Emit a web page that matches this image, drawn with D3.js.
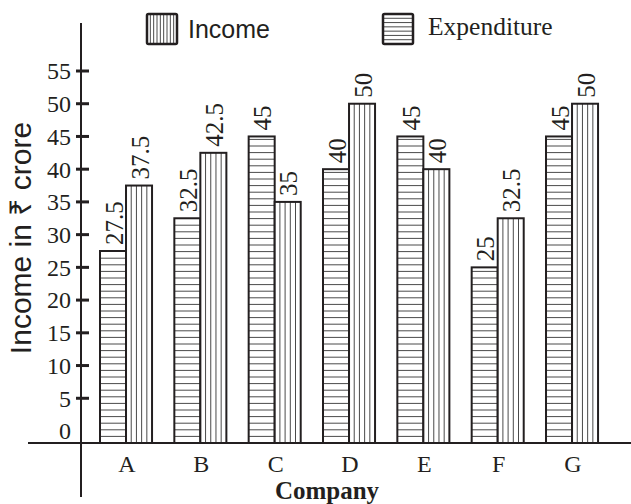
<!DOCTYPE html>
<html>
<head>
<meta charset="utf-8">
<script src="https://cdn.jsdelivr.net/npm/d3@7/dist/d3.min.js"></script>
<style>
  html, body { margin: 0; padding: 0; background: #fff; }
  svg { display: block; }
</style>
</head>
<body>
<svg id="chart" width="631" height="504"></svg>
<script>
// ---- data ----
const categories = ["A", "B", "C", "D", "E", "F", "G"];
// left bar of each pair (horizontal hatching)
const expenditure = [27.5, 32.5, 45, 40, 45, 25, 45];
// right bar of each pair (vertical hatching)
const income = [37.5, 42.5, 35, 50, 40, 32.5, 50];
const yTicks = [0, 5, 10, 15, 20, 25, 30, 35, 40, 45, 50, 55];
const seriesNames = ["Income", "Expenditure"];
const yTitle = "Income in \u20B9 crore";
const xTitle = "Company";

// ---- layout ----
const INK = "#231f20";
const HATCH = "#4a4a4a";
const SERIF = "'Liberation Serif', 'Times New Roman', serif";
const SANS = "'Liberation Sans', Arial, 'Noto Sans', 'DejaVu Sans', sans-serif";

const svg = d3.select("#chart");
const axisX = 81, baseY = 443;

const y = d3.scaleLinear().domain([0, 55]).range([431, 71]);
const x = d3.scaleBand().domain(categories).range([88.85, 609.2]).paddingInner(0.3).paddingOuter(0.15);
const sub = d3.scaleBand().domain(["left", "right"]).range([0, x.bandwidth()]);

const rows = categories.map((c, i) => ({ c, left: expenditure[i], right: income[i] }));

// ---- bars ----
const g = svg.append("g");
rows.forEach(r => {
  const w = sub.bandwidth();
  // left bar (horizontal lines)
  const lx = x(r.c) + sub("left");
  const ly = y(r.left);
  const lg = g.append("g");
  lg.append("rect").attr("x", lx).attr("y", ly).attr("width", w).attr("height", baseY - ly)
    .attr("fill", "#fff");
  const hs = d3.range(baseY - 6.6, ly + 2, -6.6);
  lg.selectAll("line").data(hs).enter().append("line")
    .attr("x1", lx).attr("x2", lx + w).attr("y1", d => d).attr("y2", d => d)
    .attr("stroke", HATCH).attr("stroke-width", 1);
  lg.append("rect").attr("x", lx).attr("y", ly).attr("width", w).attr("height", baseY - ly)
    .attr("fill", "none").attr("stroke", INK).attr("stroke-width", 2);

  // right bar (vertical lines)
  const rx = x(r.c) + sub("right");
  const ry = y(r.right);
  const rg = g.append("g");
  rg.append("rect").attr("x", rx).attr("y", ry).attr("width", w).attr("height", baseY - ry)
    .attr("fill", "#fff");
  const vs = d3.range(1, 5).map(k => rx + k * w / 5);
  rg.selectAll("line").data(vs).enter().append("line")
    .attr("x1", d => d).attr("x2", d => d).attr("y1", ry).attr("y2", baseY)
    .attr("stroke", HATCH).attr("stroke-width", 1);
  rg.append("rect").attr("x", rx).attr("y", ry).attr("width", w).attr("height", baseY - ry)
    .attr("fill", "none").attr("stroke", INK).attr("stroke-width", 2);

  // value labels
  [[lx, ly, r.left], [rx, ry, r.right]].forEach(([bx, by, v]) => {
    g.append("text")
      .attr("transform", `translate(${bx + w / 2 + 1},${by - 6}) rotate(-90)`)
      .attr("dy", "0.35em")
      .attr("text-anchor", "start")
      .attr("font-family", SERIF).attr("font-size", 25).attr("fill", INK)
      .text(v);
  });
});

// ---- axes ----
svg.append("line").attr("x1", 28).attr("x2", 631).attr("y1", baseY).attr("y2", baseY)
  .attr("stroke", INK).attr("stroke-width", 2);
svg.append("line").attr("x1", axisX).attr("x2", axisX).attr("y1", 23).attr("y2", 497)
  .attr("stroke", INK).attr("stroke-width", 2);

const tg = svg.append("g");
yTicks.forEach(t => {
  if (t !== 0) {
    tg.append("line").attr("x1", axisX - 5).attr("x2", axisX + 8)
      .attr("y1", y(t)).attr("y2", y(t)).attr("stroke", INK).attr("stroke-width", 3);
  }
  tg.append("text").attr("x", axisX - 10).attr("y", y(t)).attr("dy", "0.35em")
    .attr("text-anchor", "end").attr("font-family", SERIF).attr("font-size", 24)
    .attr("fill", INK).text(t);
});

// category labels
svg.append("g").selectAll("text").data(categories).enter().append("text")
  .attr("x", d => x(d) + x.bandwidth() / 2 + 1).attr("y", 472)
  .attr("text-anchor", "middle").attr("font-family", SERIF).attr("font-size", 24)
  .attr("fill", INK).text(d => d);

// axis titles
svg.append("text").attr("x", 327).attr("y", 499).attr("text-anchor", "middle")
  .attr("font-family", SERIF).attr("font-weight", "bold").attr("font-size", 25)
  .attr("fill", INK).text(xTitle);

svg.append("text").attr("transform", "translate(31,238) rotate(-90)")
  .attr("text-anchor", "middle").attr("font-family", SANS).attr("font-size", 30)
  .attr("fill", INK).text(yTitle);

// ---- legend ----
const lgd = svg.append("g");
// Income: vertical lines
const b1x = 147, b1y = 14, bs = 30;
lgd.selectAll("line.v").data(d3.range(1, 9)).enter().append("line")
  .attr("x1", k => b1x + k * bs / 9).attr("x2", k => b1x + k * bs / 9)
  .attr("y1", b1y).attr("y2", b1y + bs).attr("stroke", HATCH).attr("stroke-width", 1);
lgd.append("rect").attr("x", b1x).attr("y", b1y).attr("width", bs).attr("height", bs)
  .attr("rx", 1.5).attr("fill", "none").attr("stroke", INK).attr("stroke-width", 2.5);
lgd.append("text").attr("x", 188).attr("y", 38).attr("font-family", SANS)
  .attr("font-size", 25).attr("fill", INK).text(seriesNames[0]);

// Expenditure: horizontal lines
const b2x = 383, b2y = 14;
lgd.selectAll("line.h").data(d3.range(1, 7)).enter().append("line")
  .attr("x1", b2x).attr("x2", b2x + bs)
  .attr("y1", k => b2y + k * bs / 7).attr("y2", k => b2y + k * bs / 7)
  .attr("stroke", HATCH).attr("stroke-width", 1);
lgd.append("rect").attr("x", b2x).attr("y", b2y).attr("width", bs).attr("height", bs)
  .attr("rx", 1.5).attr("fill", "none").attr("stroke", INK).attr("stroke-width", 2.5);
lgd.append("text").attr("x", 428).attr("y", 35).attr("font-family", SERIF)
  .attr("font-size", 25.5).attr("fill", INK).text(seriesNames[1]);
</script>
</body>
</html>
